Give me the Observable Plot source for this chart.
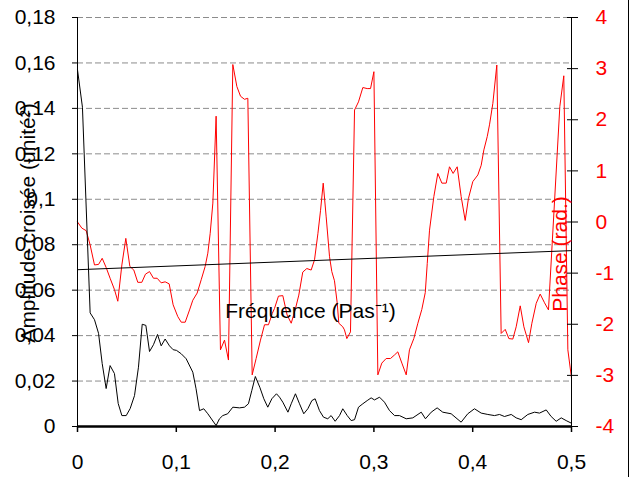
<!DOCTYPE html>
<html>
<head>
<meta charset="utf-8">
<script src="https://cdn.jsdelivr.net/npm/d3@7"></script>
<script src="https://cdn.jsdelivr.net/npm/@observablehq/plot@0.6"></script>
<style>
  html, body { margin: 0; padding: 0; background: #fff; }
</style>
</head>
<body>
<div id="chart"></div>
<script>
// Amplitude croisée (black line)
const ampFreq = [0, 0.005, 0.0128, 0.0172, 0.0213, 0.025, 0.029, 0.033, 0.0374, 0.0412, 0.0449, 0.0493, 0.0533, 0.0577, 0.0617, 0.0655, 0.0692, 0.0729, 0.0769, 0.081, 0.0847, 0.0887, 0.0931, 0.0968, 0.1002, 0.105, 0.110, 0.1167, 0.120, 0.1235, 0.1278, 0.1319, 0.1403, 0.1437, 0.147, 0.152, 0.1572, 0.164, 0.169, 0.173, 0.1764, 0.180, 0.1845, 0.1886, 0.1926, 0.1967, 0.2014, 0.2045, 0.2078, 0.213, 0.2163, 0.2206, 0.2247, 0.229, 0.2331, 0.2372, 0.2405, 0.2449, 0.249, 0.2533, 0.2567, 0.2608, 0.2652, 0.2685, 0.273, 0.277, 0.2804, 0.2844, 0.2888, 0.2932, 0.2972, 0.3006, 0.3057, 0.3107, 0.3158, 0.3209, 0.3259, 0.3327, 0.3394, 0.3479, 0.3522, 0.358, 0.364, 0.3697, 0.3782, 0.3883, 0.395, 0.4018, 0.4086, 0.4153, 0.4221, 0.4271, 0.4322, 0.439, 0.444, 0.4491, 0.4558, 0.4626, 0.4676, 0.4744, 0.4794, 0.4845, 0.4896, 0.4946, 0.4997];
const ampValues = [0.157, 0.1405, 0.050, 0.047, 0.041, 0.0277, 0.0167, 0.0268, 0.0233, 0.0101, 0.0048, 0.0048, 0.0079, 0.0136, 0.0261, 0.045, 0.0445, 0.033, 0.036, 0.0405, 0.0355, 0.0385, 0.0355, 0.0338, 0.0335, 0.032, 0.0298, 0.0239, 0.0166, 0.007, 0.0078, 0.0056, 0.0004, 0.0034, 0.0048, 0.0056, 0.0085, 0.0082, 0.0085, 0.010, 0.0158, 0.022, 0.0173, 0.0122, 0.0085, 0.0122, 0.0144, 0.0129, 0.0107, 0.0063, 0.010, 0.0144, 0.010, 0.0056, 0.0078, 0.0114, 0.0122, 0.007, 0.0041, 0.0034, 0.0048, 0.0023, 0.0048, 0.0078, 0.0048, 0.0026, 0.003, 0.0085, 0.010, 0.0114, 0.0126, 0.0117, 0.0129, 0.0107, 0.007, 0.0048, 0.0048, 0.0034, 0.0038, 0.0063, 0.0034, 0.0063, 0.0082, 0.0063, 0.0056, 0.0019, 0.0056, 0.0078, 0.0059, 0.0053, 0.0048, 0.0053, 0.0044, 0.0053, 0.0038, 0.003, 0.0053, 0.0063, 0.0059, 0.0073, 0.0044, 0.0023, 0.0038, 0.0026, 0.0015];

// Phase (red line, right axis, radians)
const phaseFreq = [0, 0.0044, 0.0088, 0.0128, 0.0172, 0.0213, 0.025, 0.029, 0.033, 0.0374, 0.0408, 0.0449, 0.0489, 0.053, 0.057, 0.061, 0.0651, 0.0688, 0.0729, 0.0769, 0.0806, 0.0847, 0.0887, 0.0928, 0.0968, 0.1015, 0.105, 0.109, 0.1134, 0.1167, 0.1211, 0.1252, 0.1292, 0.1319, 0.1343, 0.137, 0.1403, 0.1447, 0.1488, 0.1528, 0.1572, 0.1613, 0.165, 0.169, 0.1724, 0.1768, 0.1808, 0.1852, 0.1893, 0.1933, 0.1971, 0.1994, 0.2034, 0.2078, 0.2122, 0.2163, 0.2203, 0.224, 0.228, 0.2321, 0.2365, 0.2399, 0.2433, 0.246, 0.2487, 0.2517, 0.2551, 0.2574, 0.2601, 0.2629, 0.2645, 0.2685, 0.2702, 0.2726, 0.2763, 0.2804, 0.2844, 0.2888, 0.2932, 0.2966, 0.3, 0.304, 0.308, 0.3124, 0.3168, 0.3209, 0.3242, 0.3283, 0.3327, 0.336, 0.3404, 0.3445, 0.3485, 0.352, 0.354, 0.3563, 0.3607, 0.3647, 0.3688, 0.3732, 0.3765, 0.3802, 0.3843, 0.3883, 0.3924, 0.3957, 0.4001, 0.4052, 0.4086, 0.4113, 0.4147, 0.417, 0.4204, 0.4244, 0.4288, 0.4329, 0.4366, 0.4406, 0.444, 0.4481, 0.4518, 0.4565, 0.4599, 0.4643, 0.4683, 0.4727, 0.4767, 0.4882, 0.4922, 0.4963, 0.5];
const phaseValues = [0.0, -0.12, -0.17, -0.45, -0.84, -0.83, -0.71, -0.89, -1.10, -1.32, -1.55, -0.84, -0.32, -0.87, -0.94, -1.18, -1.18, -1.02, -0.97, -1.10, -1.10, -1.19, -1.17, -1.21, -1.62, -1.85, -1.96, -1.96, -1.72, -1.53, -1.39, -1.13, -0.87, -0.61, -0.22, 0.37, 2.07, -2.50, -2.31, -2.70, 3.08, 2.65, 2.46, 2.40, 2.42, -2.99, -2.67, -2.31, -2.01, -2.01, -1.79, -1.69, -1.45, -1.44, -1.82, -1.98, -1.72, -1.43, -0.98, -0.91, -0.94, -0.74, -0.23, 0.23, 0.76, 0.10, -0.68, -0.97, -1.15, -1.59, -1.98, -2.05, -2.11, -2.28, -2.15, 2.19, 2.35, 2.63, 2.61, 2.61, 2.94, -2.99, -2.76, -2.67, -2.67, -2.60, -2.54, -2.76, -2.99, -2.50, -2.28, -1.98, -1.71, -1.38, -0.81, -0.16, 0.50, 0.95, 0.76, 0.76, 1.08, 0.95, 1.08, 0.50, 0.03, 0.46, 0.79, 0.92, 1.11, 1.41, 1.67, 1.90, 2.32, 3.07, -2.18, -2.10, -2.28, -2.29, -2.05, -1.64, -2.05, -2.36, -1.98, -1.59, -1.41, -1.58, -1.72, 2.26, 2.86, -2.50, -3.05];

// Linear trend of the amplitude (black straight line)
const trendFreq = [0, 0.5];
const trendValues = [0.069, 0.0774];

// Tick values and labels
const ampTicks = [0, 0.02, 0.04, 0.06, 0.08, 0.1, 0.12, 0.14, 0.16, 0.18];
const phaseTicks = [-4, -3, -2, -1, 0, 1, 2, 3, 4];
const freqTicks = [0, 0.1, 0.2, 0.3, 0.4, 0.5];
const xLabel = "Fréquence (Pas⁻¹)";
const yLabel = "Amplitude croisée (unité²)";
const y2Label = "Phase (rad.)";

const phaseDomain = [-4, 4];
const ampDomain = [0, 0.18];
const phaseToAmp = p => (p - phaseDomain[0]) / (phaseDomain[1] - phaseDomain[0]) * (ampDomain[1] - ampDomain[0]) + ampDomain[0];
const ampToPhase = a => (a - ampDomain[0]) / (ampDomain[1] - ampDomain[0]) * (phaseDomain[1] - phaseDomain[0]) + phaseDomain[0];
const fmt = d => String(+d.toFixed(2)).replace(".", ",");

const ampData = ampFreq.map((f, i) => ({f, a: ampValues[i]}));
const phaseData = phaseFreq.map((f, i) => ({f, a: phaseToAmp(phaseValues[i])}));
const trendData = trendFreq.map((f, i) => ({f, a: trendValues[i]}));

const RED = "#ff0000";

const chart = Plot.plot({
  width: 628,
  height: 477,
  marginLeft: 77,
  marginRight: 57,
  marginTop: 17,
  marginBottom: 51,
  style: {
    fontFamily: "'Liberation Sans', Arial, sans-serif",
    fontSize: "21px",
    background: "#fff",
    color: "#000",
    borderRight: "1px solid #000",
    display: "block"
  },
  x: {domain: [0, 0.5]},
  y: {domain: ampDomain},
  marks: [
    Plot.gridY(ampTicks.filter(t => t > 0), {stroke: "#8c8c8c", strokeOpacity: 1, strokeDasharray: "6,3"}),
    Plot.line(phaseData, {x: "f", y: "a", stroke: RED, strokeWidth: 1}),
    Plot.line(ampData, {x: "f", y: "a", stroke: "#000", strokeWidth: 1}),
    Plot.line(trendData, {x: "f", y: "a", stroke: "#000", strokeWidth: 1}),
    Plot.ruleX([0], {stroke: "#000"}),
    Plot.ruleX([0.5], {stroke: "#000"}),
    Plot.ruleY([0], {stroke: "#000", strokeWidth: 2.5}),
    Plot.axisY(ampTicks, {anchor: "left", tickSize: 5, tickPadding: 17, tickFormat: fmt, label: null}),
    Plot.axisX(freqTicks, {anchor: "bottom", tickSize: 6, tickPadding: 22, tickFormat: fmt, label: null, strokeWidth: 1.5}),
    Plot.axisY(phaseTicks.map(phaseToAmp), {anchor: "right", tickSize: 11, dx: -5, tickFormat: () => "", label: null}),
    Plot.axisY(phaseTicks.map(phaseToAmp), {anchor: "right", tickSize: 0, tickPadding: 24, fill: RED,
      tickFormat: d => String(Math.round(ampToPhase(d))), label: null}),
    Plot.text([xLabel], {text: d => d, frameAnchor: "middle", textAnchor: "middle", dx: -14, dy: 89, fontSize: 21, fill: "#000"}),
    Plot.text([yLabel], {text: d => d, frameAnchor: "left", textAnchor: "middle", lineAnchor: "middle", rotate: -90, dx: -49, dy: 1, fontSize: 21, fill: "#000"}),
    Plot.text([y2Label], {text: d => d, frameAnchor: "right", textAnchor: "middle", lineAnchor: "middle", rotate: -90, dx: -11, dy: 32, fontSize: 21, fill: RED})
  ]
});
document.getElementById("chart").appendChild(chart);
</script>
</body>
</html>
